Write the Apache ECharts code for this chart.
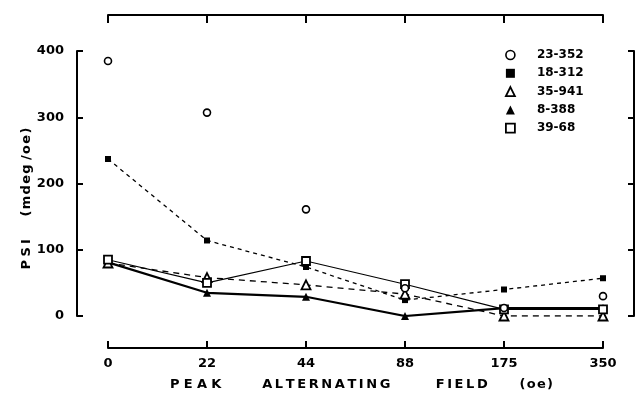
<!DOCTYPE html>
<html>
<head>
<meta charset="utf-8">
<script src="https://cdn.jsdelivr.net/npm/echarts@6/dist/echarts.min.js"></script>
<style>html,body{margin:0;padding:0;background:#fff}#c{width:636px;height:400px}</style>
</head>
<body>
<div id="c"></div>
<script>
var categories = ['0', '22', '44', '88', '175', '350'];
var yTicks = [0, 100, 200, 300, 400];
var s23_352 = [385, 307, 161, 42, 12, 30];
var s18_312 = [237, 114, 74, 24, 40, 57];
var s35_941 = [80, 58, 47, 33, 0, 0];
var s8_388 = [81, 35, 29, 0, 12, 12];
var s39_68 = [85, 50, 83, 48, 10, 10];

var F = 'DejaVu Sans';
var chart = echarts.init(document.getElementById('c'), null, {renderer: 'canvas'});
var axisLine = {show: true, onZero: false, lineStyle: {color: '#000', width: 2}};
var tick = {show: true, inside: true, length: 7, lineStyle: {color: '#000', width: 2}};
function spaced(w, s) { return w.split('').join(s); }
var xName = spaced('PEAK', '\u2004') + '         ' + spaced('ALTERNATING', '\u2009') + '          ' +
  spaced('FIELD', '\u2009') + '       ' + spaced('(oe)', '\u200A');
var yName = spaced('PSI', '\u2005') + '     ' + spaced('(mdeg', '\u200A') + ' ' + spaced('/oe)', '\u200A');
chart.setOption({
  animation: false,
  backgroundColor: '#fff',
  grid: {left: 108, right: 33, top: 51, bottom: 84},
  legend: {
    orient: 'vertical', left: 500, top: 44, itemWidth: 9, itemHeight: 9, itemGap: 6.3,
    textStyle: {fontFamily: F, fontWeight: 'bold', fontSize: 12, color: '#000', lineHeight: 12, padding: [0, 0, 0, 17]},
    data: [
      {name: '23-352', icon: 'circle', itemStyle: {color: '#fff', borderColor: '#000', borderWidth: 1.6}},
      {name: '18-312', icon: 'rect', itemStyle: {color: '#000', borderWidth: 0}},
      {name: '35-941', icon: 'triangle', itemStyle: {color: '#fff', borderColor: '#000', borderWidth: 1.8}},
      {name: '8-388', icon: 'triangle', itemStyle: {color: '#000', borderWidth: 0}},
      {name: '39-68', icon: 'rect', itemStyle: {color: '#fff', borderColor: '#000', borderWidth: 1.8}}
    ]
  },
  xAxis: [{
    type: 'category', data: categories, boundaryGap: false, position: 'bottom', offset: 32,
    axisLine: axisLine, axisTick: tick,
    axisLabel: {color: '#000', fontFamily: F, fontWeight: 'bold', fontSize: 13, margin: 9},
    name: xName,
    nameLocation: 'middle', nameGap: 30,
    nameTextStyle: {color: '#000', fontFamily: F, fontWeight: 'bold', fontSize: 13, padding: [0, 0, 0, 12]}
  }, {
    type: 'category', data: categories, boundaryGap: false, position: 'top', offset: 36,
    axisLine: axisLine, axisTick: {show: true, inside: true, length: 8, lineStyle: {color: '#000', width: 2}},
    axisLabel: {show: false}
  }],
  yAxis: [{
    type: 'value', min: 0, max: 400, interval: 100, position: 'left', offset: 31,
    axisLine: axisLine, axisTick: {show: true, inside: true, length: 6, lineStyle: {color: '#000', width: 2}},
    splitLine: {show: false},
    axisLabel: {color: '#000', fontFamily: F, fontWeight: 'bold', fontSize: 13, margin: 13,
      formatter: function (v) { return yTicks.indexOf(v) >= 0 ? String(v) : ''; }},
    name: yName, nameLocation: 'middle', nameRotate: 90, nameGap: 44, nameMoveOverlap: false,
    nameTextStyle: {color: '#000', fontFamily: F, fontWeight: 'bold', fontSize: 13, padding: [0, 30, 0, 0]}
  }, {
    type: 'value', min: 0, max: 400, interval: 100, position: 'right', offset: 31,
    axisLine: axisLine, axisTick: {show: true, inside: true, length: 6, lineStyle: {color: '#000', width: 2}},
    splitLine: {show: false}, axisLabel: {show: false}
  }],
  series: [
    {name: '18-312', type: 'line', data: s18_312, symbol: 'rect', symbolSize: 6,
      itemStyle: {color: '#000'}, lineStyle: {color: '#000', width: 1.3, type: [4, 4]}, z: 3},
    {name: '35-941', type: 'line', data: s35_941, symbol: 'triangle', symbolSize: 9,
      itemStyle: {color: '#fff', borderColor: '#000', borderWidth: 1.8}, lineStyle: {color: '#000', width: 1.3, type: [6, 5]}, z: 4},
    {name: '8-388', type: 'line', data: s8_388, symbol: 'triangle', symbolSize: 8,
      itemStyle: {color: '#000'}, lineStyle: {color: '#000', width: 2.2}, z: 3},
    {name: '39-68', type: 'line', data: s39_68, symbol: 'rect', symbolSize: 8,
      itemStyle: {color: '#fff', borderColor: '#000', borderWidth: 1.8}, lineStyle: {color: '#000', width: 1.1}, z: 5},
    {name: '23-352', type: 'scatter', data: s23_352, symbol: 'circle', symbolSize: 7,
      itemStyle: {color: '#fff', borderColor: '#000', borderWidth: 1.6, opacity: 1}, z: 6}
  ]
});
</script>
</body>
</html>
